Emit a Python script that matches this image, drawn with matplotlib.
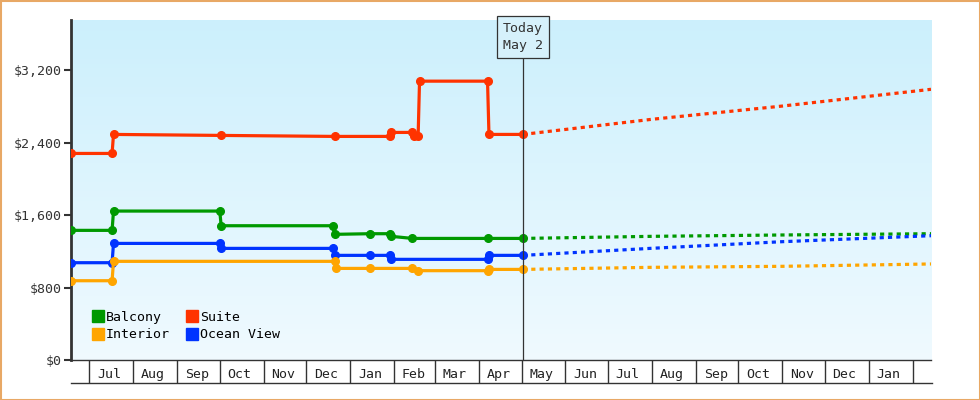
import matplotlib
matplotlib.use("Agg")
import matplotlib.pyplot as plt
import matplotlib.dates as mdates
import numpy as np
from datetime import date, timedelta
from matplotlib.lines import Line2D
from matplotlib.patches import Rectangle

def d(s):
    return date.fromisoformat(s)

# ---- data ----
suite_dates = ["2023-06-18","2023-07-17","2023-07-18","2023-10-02","2023-12-21","2024-01-29","2024-01-30","2024-02-14","2024-02-15","2024-02-18","2024-02-19","2024-04-07","2024-04-08","2024-05-02"]
suite_vals  = [2280,2280,2490,2479,2468,2468,2512,2512,2468,2468,3078,3078,2490,2490]
balcony_dates = ["2023-06-18","2023-07-17","2023-07-18","2023-10-01","2023-10-02","2023-12-20","2023-12-21","2024-01-15","2024-01-29","2024-01-30","2024-02-14","2024-04-07","2024-05-02"]
balcony_vals  = [1431,1431,1644,1644,1482,1482,1387,1394,1394,1365,1342,1342,1342]
ocean_dates = ["2023-06-18","2023-07-17","2023-07-18","2023-10-01","2023-10-02","2023-12-20","2023-12-21","2024-01-15","2024-01-29","2024-01-30","2024-04-07","2024-04-08","2024-05-02"]
ocean_vals  = [1074,1074,1287,1287,1232,1232,1155,1155,1155,1111,1111,1155,1155]
interior_dates = ["2023-06-18","2023-07-17","2023-07-18","2023-12-21","2023-12-22","2024-01-15","2024-02-14","2024-02-18","2024-04-07","2024-04-08","2024-05-02"]
interior_vals  = [875,875,1089,1089,1011,1011,1011,986,986,1000,1000]

fc_dates = ["2024-05-02","2024-08-01","2024-11-01","2025-02-14"]
suite_fc    = [2490,2657,2803,2988]
balcony_fc  = [1342,1365,1380,1394]
ocean_fc    = [1155,1233,1306,1372]
interior_fc = [1000,1023,1034,1060]

today = "2024-05-02"
yticks = [0,800,1600,2400,3200]

colors = {"Balcony":"#009900","Interior":"#ffa500","Suite":"#ff3300","Ocean View":"#0033ff"}

W, H = 980, 400
fig = plt.figure(figsize=(9.8,4.0), dpi=100)
ax = fig.add_axes([71/W, 40/H, (931-71)/W, (360-20)/H])

xmin, xmax = d("2023-06-18"), d("2025-02-14")
ymax = 3753
ax.set_xlim(xmin, xmax)
ax.set_ylim(0, ymax)

# gradient background
grad = np.linspace(0,1,256).reshape(-1,1)
top = np.array([0.80,0.94,0.99]); bot = np.array([0.94,0.98,1.0])
img = bot + (top-bot)*grad
ax.imshow(img[:, None, :].repeat(2,axis=1), extent=[0,1,0,1], transform=ax.transAxes,
          origin="lower", aspect="auto", zorder=0)

def plot_series(name, ds, vs, fds, fvs):
    c = colors[name]
    ax.plot([d(x) for x in ds], vs, color=c, lw=2.3, marker="o", ms=5.5, zorder=3)
    ax.plot([d(x) for x in fds], fvs, color=c, lw=2.3, ls=(0,(1.3,1.3)), zorder=3)

plot_series("Suite", suite_dates, suite_vals, fc_dates, suite_fc)
plot_series("Balcony", balcony_dates, balcony_vals, fc_dates, balcony_fc)
plot_series("Ocean View", ocean_dates, ocean_vals, fc_dates, ocean_fc)
plot_series("Interior", interior_dates, interior_vals, fc_dates, interior_fc)

# today line & box
ax.axvline(d(today), color="#333333", lw=0.9, zorder=4)
ax.text(d(today), 0.993, "Today\nMay 2", transform=ax.get_xaxis_transform(), ha="center", va="top",
        family="DejaVu Sans Mono", fontsize=9.5, color="#333333", linespacing=1.4,
        bbox=dict(boxstyle="square,pad=0.45", fc="#d6f1fb", ec="#333333", lw=0.9), zorder=5)

# axes styling
for s in ["top","right"]:
    ax.spines[s].set_visible(False)
ax.spines["left"].set_linewidth(2)
ax.spines["left"].set_color("#333333")
ax.spines["bottom"].set_linewidth(1)
ax.spines["bottom"].set_color("#333333")
ax.set_yticks(yticks)
ax.set_yticklabels(["$" + format(v, ",") for v in yticks], family="DejaVu Sans Mono", fontsize=9.5, color="#333333")
ax.tick_params(axis="y", length=5, width=1.5, color="#333333", pad=2)

# month ticks
months = []
m = date(2023,7,1)
while m <= xmax:
    months.append(m)
    m = date(m.year + (m.month==12), m.month % 12 + 1, 1)
ax.set_xticks(months)
ax.set_xticklabels([])
ax.tick_params(axis="x", which="major", length=16.5, width=1, color="#333333")
mids = [date(x.year, x.month, 15) for x in months]
mids = [x for x in mids if x < xmax - timedelta(days=10)]
ax.set_xticks(mids, minor=True)
ax.set_xticklabels([x.strftime("%b") for x in mids], minor=True, family="DejaVu Sans Mono", fontsize=9.5, color="#222222")
ax.tick_params(axis="x", which="minor", length=0, pad=6)

fig.add_artist(Line2D([71/W, 932/W], [17/H, 17/H], color="#333333", lw=1))

# legend
handles = [Line2D([],[],marker="s",ls="",color=colors[n],ms=8) for n in ["Balcony","Interior","Suite","Ocean View"]]
ax.legend(handles, ["Balcony","Interior","Suite","Ocean View"], ncol=2, loc="lower left",
          bbox_to_anchor=(0.01,0.02), frameon=False, handletextpad=0.1, columnspacing=1.2,
          labelspacing=0.35, handlelength=1.0, prop=dict(family="DejaVu Sans Mono", size=9.5))

fig.add_artist(Rectangle((0.5/W,0.5/H), 1-1/W, 1-1/H, transform=fig.transFigure, fill=False, ec="#e8a865", lw=1.5))

fig.savefig("out.png", dpi=100)
